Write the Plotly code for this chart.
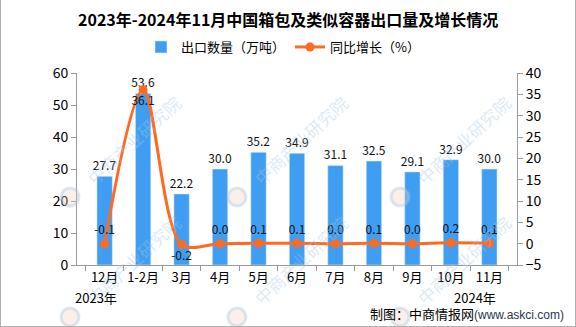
import plotly.graph_objects as go

categories = ["12月", "1-2月", "3月", "4月", "5月", "6月", "7月", "8月", "9月", "10月", "11月"]
export_qty = [27.7, 53.6, 22.2, 30.0, 35.2, 34.9, 31.1, 32.5, 29.1, 32.9, 30.0]
yoy_growth = [-0.1, 36.1, -0.2, 0.0, 0.1, 0.1, 0.0, 0.1, 0.0, 0.2, 0.1]
line_label_pos = ["top center", "bottom center", "bottom center", "top center", "top center",
                  "top center", "top center", "top center", "top center", "top center", "top center"]

title_text = "2023年-2024年11月中国箱包及类似容器出口量及增长情况"
bar_name = "出口数量（万吨）"
line_name = "同比增长（%）"
year_labels = ["2023年", "2024年"]
source_text = "制图：中商情报网<span style='font-family:Liberation Sans;font-size:12px;color:#2a3550'>(www.askci.com)</span>"
watermark = "中商产业研究院"

W, H = 576, 327
L, R, T, B = 77, 517, 73, 265

def px(x):
    return (x - L) / (R - L)

def py(y):
    return (B - y) / (B - T)

FONT = "Noto Sans CJK SC, Noto Sans, sans-serif"
BLUE = "#409ef2"
ORANGE = "#ff6a22"
AX = "#9a9a9a"

fig = go.Figure()
fig.add_trace(go.Bar(
    x=categories, y=export_qty, name=bar_name, marker_color=BLUE, width=0.4,
    text=[f"{v:.1f}" for v in export_qty], textposition="outside", constraintext="none",
    textfont=dict(size=12, color="#111", family=FONT), cliponaxis=False,
))
fig.add_trace(go.Scatter(
    x=categories, y=yoy_growth, name=line_name, yaxis="y2", mode="lines+markers+text",
    line=dict(color=ORANGE, width=3, shape="spline", smoothing=0.9),
    marker=dict(color=ORANGE, size=9),
    text=[f"{v:.1f}" for v in yoy_growth], textposition=line_label_pos,
    textfont=dict(size=12, color="#111", family=FONT), cliponaxis=False,
))

annotations = []
shapes = []
# watermarks (fully visible ones)
for ly in [197, 317]:
    for lx in [70, 237, 400]:
        cx, cy = lx + 63, ly - 57
        annotations.append(dict(
            x=px(cx), y=py(cy), xref="paper", yref="paper", text=watermark, showarrow=False,
            xanchor="center", yanchor="middle",
            textangle=-43, font=dict(size=17, color="rgba(165,200,228,0.4)", family=FONT),
        ))
        shapes.append(dict(
            type="circle", xref="paper", yref="paper",
            x0=px(lx - 9), x1=px(lx + 9), y0=py(ly + 9), y1=py(ly - 9),
            line=dict(color="rgba(165,200,228,0.4)", width=3), fillcolor="rgba(245,200,180,0.3)",
            layer="above",
        ))

annotations += [
    dict(x=px(288), y=py(19), xref="paper", yref="paper", text=f"<b>{title_text}</b>", showarrow=False,
         xanchor="center", yanchor="middle", font=dict(size=16, color="#000", family=FONT)),
    dict(x=px(96), y=py(297), xref="paper", yref="paper", text=year_labels[0], showarrow=False,
         xanchor="center", yanchor="middle", font=dict(size=13, color="#000", family=FONT)),
    dict(x=px(475), y=py(297), xref="paper", yref="paper", text=year_labels[1], showarrow=False,
         xanchor="center", yanchor="middle", font=dict(size=13, color="#000", family=FONT)),
    dict(x=px(566), y=py(313), xref="paper", yref="paper", text=source_text, showarrow=False,
         xanchor="right", yanchor="middle", font=dict(size=13, color="#000", family=FONT)),
]

# border
shapes += [
    dict(type="line", xref="paper", yref="paper", x0=px(0.5), x1=px(0.5), y0=py(0), y1=py(326.5),
         line=dict(color="#b0b0b0", width=1)),
    dict(type="line", xref="paper", yref="paper", x0=px(575.5), x1=px(575.5), y0=py(0), y1=py(326.5),
         line=dict(color="#b0b0b0", width=1)),
    dict(type="line", xref="paper", yref="paper", x0=px(0), x1=px(576), y0=py(326.5), y1=py(326.5),
         line=dict(color="#b0b0b0", width=1)),
]

fig.update_layout(
    width=W, height=H, margin=dict(l=L, r=W - R, t=T, b=H - B),
    paper_bgcolor="white", plot_bgcolor="white",
    font=dict(family=FONT, size=13, color="#000"),
    showlegend=True,
    legend=dict(orientation="h", x=px(283), xanchor="center", y=py(47), yanchor="middle",
                font=dict(size=13, family=FONT), itemwidth=30, bgcolor="rgba(0,0,0,0)"),
    bargap=0.6,
    xaxis=dict(type="category", showline=True, linecolor=AX, ticks="outside", tickcolor=AX, ticklen=5,
               tickson="boundaries", showgrid=False, tickangle=0, tickfont=dict(size=13, color="#000")),
    yaxis=dict(range=[0, 60], dtick=10, showline=True, linecolor=AX, ticks="outside", tickcolor=AX,
               ticklen=5, showgrid=False, zeroline=False, tickfont=dict(size=14, color="#000")),
    yaxis2=dict(range=[-5, 40], dtick=5, overlaying="y", side="right", showline=True, linecolor=AX,
                ticks="outside", tickcolor=AX, ticklen=5, showgrid=False, zeroline=False,
                tickfont=dict(size=14, color="#000")),
    annotations=annotations, shapes=shapes,
)

fig.write_html("out.html")
